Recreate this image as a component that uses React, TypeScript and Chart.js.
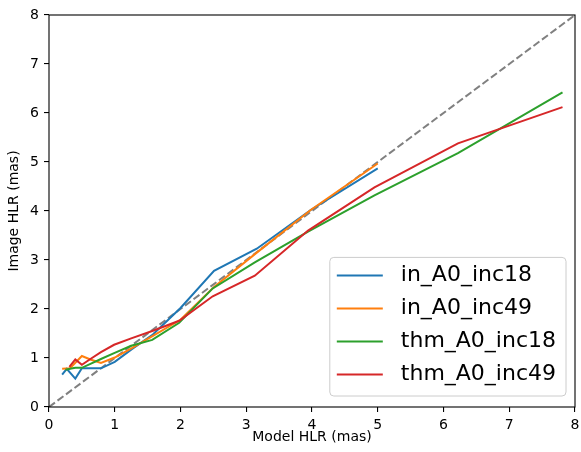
import React, { useEffect, useRef } from "react";
import { Chart, registerables, Plugin } from "chart.js";

Chart.register(...registerables);

// series (model HLR -> image HLR, mas)
const seriesLabels = ["in_A0_inc18", "in_A0_inc49", "thm_A0_inc18", "thm_A0_inc49"];
const seriesColors = ["#1f77b4", "#ff7f0e", "#2ca02c", "#d62728"];

const inA0inc18X = [0.2, 0.27, 0.4, 0.5, 0.63, 0.79, 1.0, 1.26, 1.58, 2.0, 2.51, 3.16, 3.98, 5.0];
const inA0inc18Y = [0.66, 0.78, 0.58, 0.79, 0.79, 0.79, 0.92, 1.18, 1.48, 2.02, 2.78, 3.23, 4.02, 4.87];

const inA0inc49X = [0.2, 0.32, 0.5, 0.63, 0.79, 1.0, 1.26, 1.58, 2.0, 2.51, 3.16, 3.98, 5.0];
const inA0inc49Y = [0.78, 0.79, 1.04, 0.97, 0.9, 1.01, 1.2, 1.45, 1.78, 2.45, 3.15, 4.02, 4.97];

const thmA0inc18X = [0.25, 0.32, 0.4, 0.5, 0.63, 0.79, 0.99, 1.25, 1.57, 1.98, 2.49, 3.13, 3.94, 4.95, 6.22, 7.81];
const thmA0inc18Y = [0.76, 0.78, 0.8, 0.8, 0.88, 0.98, 1.1, 1.25, 1.37, 1.72, 2.42, 2.95, 3.58, 4.32, 5.18, 6.42];

const thmA0inc49X = [0.31, 0.4, 0.5, 0.63, 0.79, 0.99, 1.25, 1.57, 1.98, 2.49, 3.13, 3.94, 4.95, 6.22, 7.81];
const thmA0inc49Y = [0.82, 0.97, 0.86, 0.98, 1.12, 1.27, 1.4, 1.55, 1.76, 2.26, 2.68, 3.6, 4.48, 5.38, 6.12];

// one-to-one reference line
const identityLine = [0, 8];

const axisMin = 0;
const axisMax = 8;

const FONT = "'DejaVu Sans', sans-serif";

const toPoints = (xs: number[], ys: number[]) => xs.map((x, i) => ({ x, y: ys[i] }));

// frame on all four sides + matplotlib-like legend in lower right
const framePlugin: Plugin = {
  id: "frameAndLegend",
  afterDatasetsDraw(chart) {
    const { ctx, chartArea } = chart;
    ctx.save();
    ctx.strokeStyle = "#000";
    ctx.lineWidth = 1.1;
    ctx.strokeRect(chartArea.left, chartArea.top, chartArea.right - chartArea.left, chartArea.bottom - chartArea.top);

    // legend
    const fs = 22;
    const padL = 7;
    const padR = 10;
    const handleLen = 46;
    const handlePad = 18;
    const rowH = 1.5 * fs;
    ctx.font = `${fs}px ${FONT}`;
    const textW = Math.max(...seriesLabels.map((l) => ctx.measureText(l).width));
    const boxW = padL + handleLen + handlePad + textW + padR;
    const boxH = rowH * seriesLabels.length + 0.3 * fs;
    const bx = chartArea.right - 9 - boxW;
    const by = chartArea.bottom - 11 - boxH;

    ctx.beginPath();
    ctx.roundRect(bx, by, boxW, boxH, 4);
    ctx.fillStyle = "rgba(255,255,255,0.8)";
    ctx.fill();
    ctx.strokeStyle = "#cccccc";
    ctx.lineWidth = 1;
    ctx.stroke();

    seriesLabels.forEach((label, i) => {
      const cy = by + 0.82 * fs + rowH * i;
      ctx.beginPath();
      ctx.moveTo(bx + padL, cy);
      ctx.lineTo(bx + padL + handleLen, cy);
      ctx.strokeStyle = seriesColors[i];
      ctx.lineWidth = 2;
      ctx.stroke();
      ctx.fillStyle = "#000";
      ctx.textBaseline = "middle";
      ctx.textAlign = "left";
      ctx.fillText(label, bx + padL + handleLen + handlePad, cy);
    });
    ctx.restore();
  },
};

export default function App() {
  const canvasRef = useRef<HTMLCanvasElement>(null);

  useEffect(() => {
    document.body.style.margin = "0";
    if (!canvasRef.current) return;
    const ctx = canvasRef.current.getContext("2d")!;

    const seriesX = [inA0inc18X, inA0inc49X, thmA0inc18X, thmA0inc49X];
    const seriesY = [inA0inc18Y, inA0inc49Y, thmA0inc18Y, thmA0inc49Y];

    const datasets: any[] = seriesLabels.map((label, i) => ({
      label,
      data: toPoints(seriesX[i], seriesY[i]),
      borderColor: seriesColors[i],
      backgroundColor: seriesColors[i],
      borderWidth: 2,
      pointRadius: 0,
      tension: 0,
      order: 4 - i,
    }));
    datasets.push({
      label: "one-to-one",
      data: toPoints(identityLine, identityLine),
      borderColor: "#808080",
      borderWidth: 2,
      borderDash: [7.4, 3.2],
      pointRadius: 0,
      order: 10,
    });

    const tickFont = { family: FONT, size: 14 };

    const chart = new Chart(ctx, {
      type: "line",
      data: { datasets },
      options: {
        animation: false,
        responsive: true,
        maintainAspectRatio: false,
        layout: { padding: { top: 15, right: 6, left: 0, bottom: 0 } },
        plugins: {
          legend: { display: false },
          tooltip: { enabled: false },
        },
        scales: {
          x: {
            type: "linear",
            min: axisMin,
            max: axisMax,
            afterFit: (scale: any) => {
              scale.height = 45;
              scale.paddingRight = 0;
              scale.paddingLeft = 0;
            },
            ticks: { stepSize: 1, color: "#000", font: tickFont, padding: 5, maxRotation: 0 },
            grid: { display: true, drawOnChartArea: false, drawTicks: true, tickLength: 5, color: "#000", lineWidth: 1.1 },
            border: { display: false },
            title: {
              display: true,
              text: "Model HLR (mas)",
              color: "#000",
              font: tickFont,
              padding: { top: 0, bottom: 6 },
            },
          },
          y: {
            type: "linear",
            min: axisMin,
            max: axisMax,
            afterFit: (scale: any) => {
              scale.width = 49;
              scale.paddingTop = 0;
              scale.paddingBottom = 0;
            },
            ticks: { stepSize: 1, color: "#000", font: tickFont, padding: 5 },
            grid: { display: true, drawOnChartArea: false, drawTicks: true, tickLength: 5, color: "#000", lineWidth: 1.1 },
            border: { display: false },
            title: {
              display: true,
              text: "Image HLR (mas)",
              color: "#000",
              font: tickFont,
              padding: { top: 6, bottom: 0 },
            },
          },
        },
      },
      plugins: [framePlugin],
    });

    return () => chart.destroy();
  }, []);

  return (
    <div style={{ width: 581, height: 452, position: "relative", background: "#fff" }}>
      <canvas ref={canvasRef} />
    </div>
  );
}
